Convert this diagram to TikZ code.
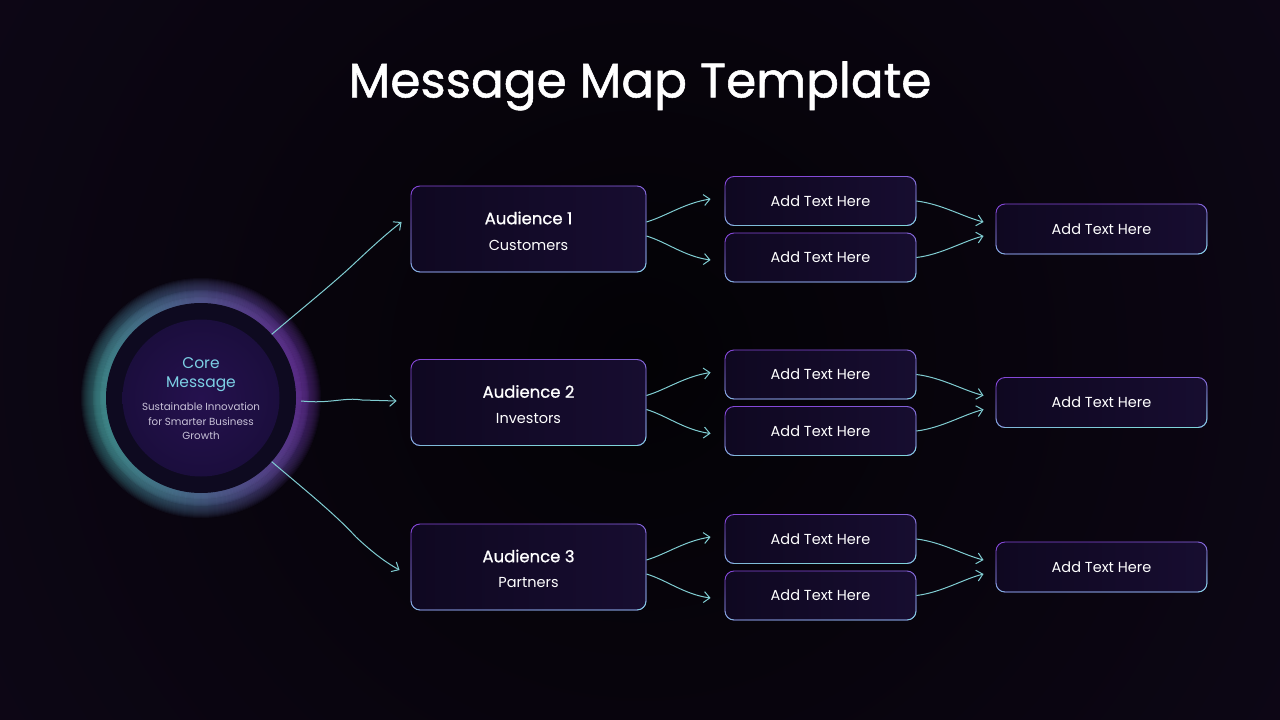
\documentclass[tikz,border=0pt]{standalone}
\usepackage{fontspec}
\setmainfont{Poppins}
\newfontfamily\titlefont[FakeBold=1.1]{Poppins}
\newfontfamily\semifont[FakeBold=0.9]{Poppins}
\usetikzlibrary{arrows.meta,fadings,calc}
\definecolor{bgc}{HTML}{030205}
\definecolor{bgout}{HTML}{170B26}
\definecolor{cyanc}{HTML}{70ECF0}
\definecolor{purc}{HTML}{A052F0}
\definecolor{arrc}{HTML}{80CDD2}
\definecolor{boxa}{HTML}{0F0821}
\definecolor{boxb}{HTML}{170D30}
\definecolor{bordp}{HTML}{8548D8}
\definecolor{bordc}{HTML}{7FD4DA}
\definecolor{ringc}{HTML}{0E0A20}
\definecolor{innera}{HTML}{25114E}
\definecolor{innerb}{HTML}{1B0E3D}
\definecolor{coretxt}{HTML}{7CCFE4}
\definecolor{subtxt}{HTML}{C8C2D8}
\tikzfading[name=fadeSE, top color=transparent!100, bottom color=transparent!0]
\begin{document}
\begin{tikzpicture}[x=1pt,y=-1pt,
  boxbase/.style={rectangle, rounded corners=9pt, left color=boxa, right color=boxb,
     draw=bordp, line width=0.9pt,
     postaction={draw=bordc, line width=0.9pt, path fading=fadeSE, fading angle=20}},
  aud/.style={boxbase, minimum width=235pt, minimum height=86pt},
  mid/.style={boxbase, minimum width=191pt, minimum height=49pt},
  rbox/.style={boxbase, minimum width=211pt, minimum height=50pt},
  lbl/.style={text=white, font=\fontsize{14.5}{17}\selectfont, inner sep=0pt},
  audlbl/.style={text=white, font=\semifont\fontsize{16.5}{19}\selectfont, inner sep=0pt},
  arr/.style={draw=arrc, line width=1pt, -{Straight Barb[length=6pt,width=11pt,line width=1pt]}},
]
\useasboundingbox (0,0) rectangle (1280,720);
\fill[bgout] (0,0) rectangle (1280,720);
\shade[inner color=bgc, outer color=bgout] (-860,-1140) rectangle (2140,1860);
% title
\node[text=white, font=\titlefont\fontsize{48.5}{52}\selectfont, inner sep=0pt] (title) at (640,86) {Message Map Template};
% glow
\foreach \r in {120,119,...,96}
  \fill[left color=cyanc, right color=purc, shading angle=100, opacity=0.05] (201,398) circle[radius=\r pt];
\foreach \r in {108,107,...,96}
  \fill[left color=cyanc, right color=purc, shading angle=100, opacity=0.13] (201,398) circle[radius=\r pt];
\foreach \r in {101,100,...,96}
  \fill[left color=cyanc, right color=purc, shading angle=100, opacity=0.25] (201,398) circle[radius=\r pt];
\node[circle, fill=ringc, minimum size=190pt, inner sep=0pt] (core) at (201,398) {};
\node[circle, inner color=innera, outer color=innerb, minimum size=157pt, inner sep=0pt] (coreinner) at (core.center) {};
\node[text=coretxt, font=\fontsize{15.5}{19}\selectfont, align=center, inner sep=0pt] (coretitle) at (201,375) {Core\\Message};
\node[text=subtxt, font=\fontsize{10.3}{14.5}\selectfont, align=center, inner sep=0pt] (coresub) at (201,421.5) {Sustainable Innovation\\for Smarter Business\\Growth};
% rows
\foreach \i/\Y/\nm in {1/229/Customers, 2/402.5/Investors, 3/567/Partners}{
  \node[aud] (a\i) at (528.5,\Y) {};
  \node[audlbl] (a\i t) at ([yshift=11pt]a\i.center) {Audience \i};
  \node[lbl] (a\i s) at ([yshift=-16pt]a\i.center) {\nm};
  \node[mid] (m\i a) at (820.5,\Y-28) {};
  \node[lbl] (m\i at) at (m\i a.center) {Add Text Here};
  \node[mid] (m\i b) at (820.5,\Y+28.5) {};
  \node[lbl] (m\i bt) at (m\i b.center) {Add Text Here};
  \node[rbox] (r\i) at (1101.5,\Y) {};
  \node[lbl] (r\i t) at (r\i.center) {Add Text Here};
  \draw[arr] ([yshift=7pt]a\i.east) .. controls ([xshift=20pt,yshift=13pt]a\i.east) and ([xshift=-40pt,yshift=-2pt]m\i a.west) .. ([xshift=-14pt,yshift=2pt]m\i a.west);
  \draw[arr] ([yshift=-7pt]a\i.east) .. controls ([xshift=20pt,yshift=-13pt]a\i.east) and ([xshift=-40pt,yshift=1pt]m\i b.west) .. ([xshift=-14pt,yshift=-2.5pt]m\i b.west);
  \draw[arr] (m\i a.east) .. controls ([xshift=25pt,yshift=-3pt]m\i a.east) and ([xshift=-32pt,yshift=12pt]r\i.west) .. ([xshift=-12pt,yshift=7pt]r\i.west);
  \draw[arr] (m\i b.east) .. controls ([xshift=25pt,yshift=3pt]m\i b.east) and ([xshift=-32pt,yshift=-12pt]r\i.west) .. ([xshift=-12pt,yshift=-7pt]r\i.west);
}
% core arrows
\coordinate (k1) at (357,261);
\coordinate (k3) at (356,537);
\draw[arr] (core.42) .. controls (305,306) and (335,282) .. (k1) .. controls (372,247) and (385,235) .. ([xshift=-9pt,yshift=7pt]a1.west);
\draw[arr] ([xshift=5pt,yshift=-3pt]core.east) .. controls (330,404) and (345,397) .. (362,400) -- ([xshift=-14pt,yshift=1.5pt]a2.west);
\draw[arr] (core.-42) .. controls (305,490) and (335,514) .. (k3) .. controls (372,552) and (385,562) .. ([xshift=-11pt,yshift=-3pt]a3.west);
\end{tikzpicture}
\end{document}
